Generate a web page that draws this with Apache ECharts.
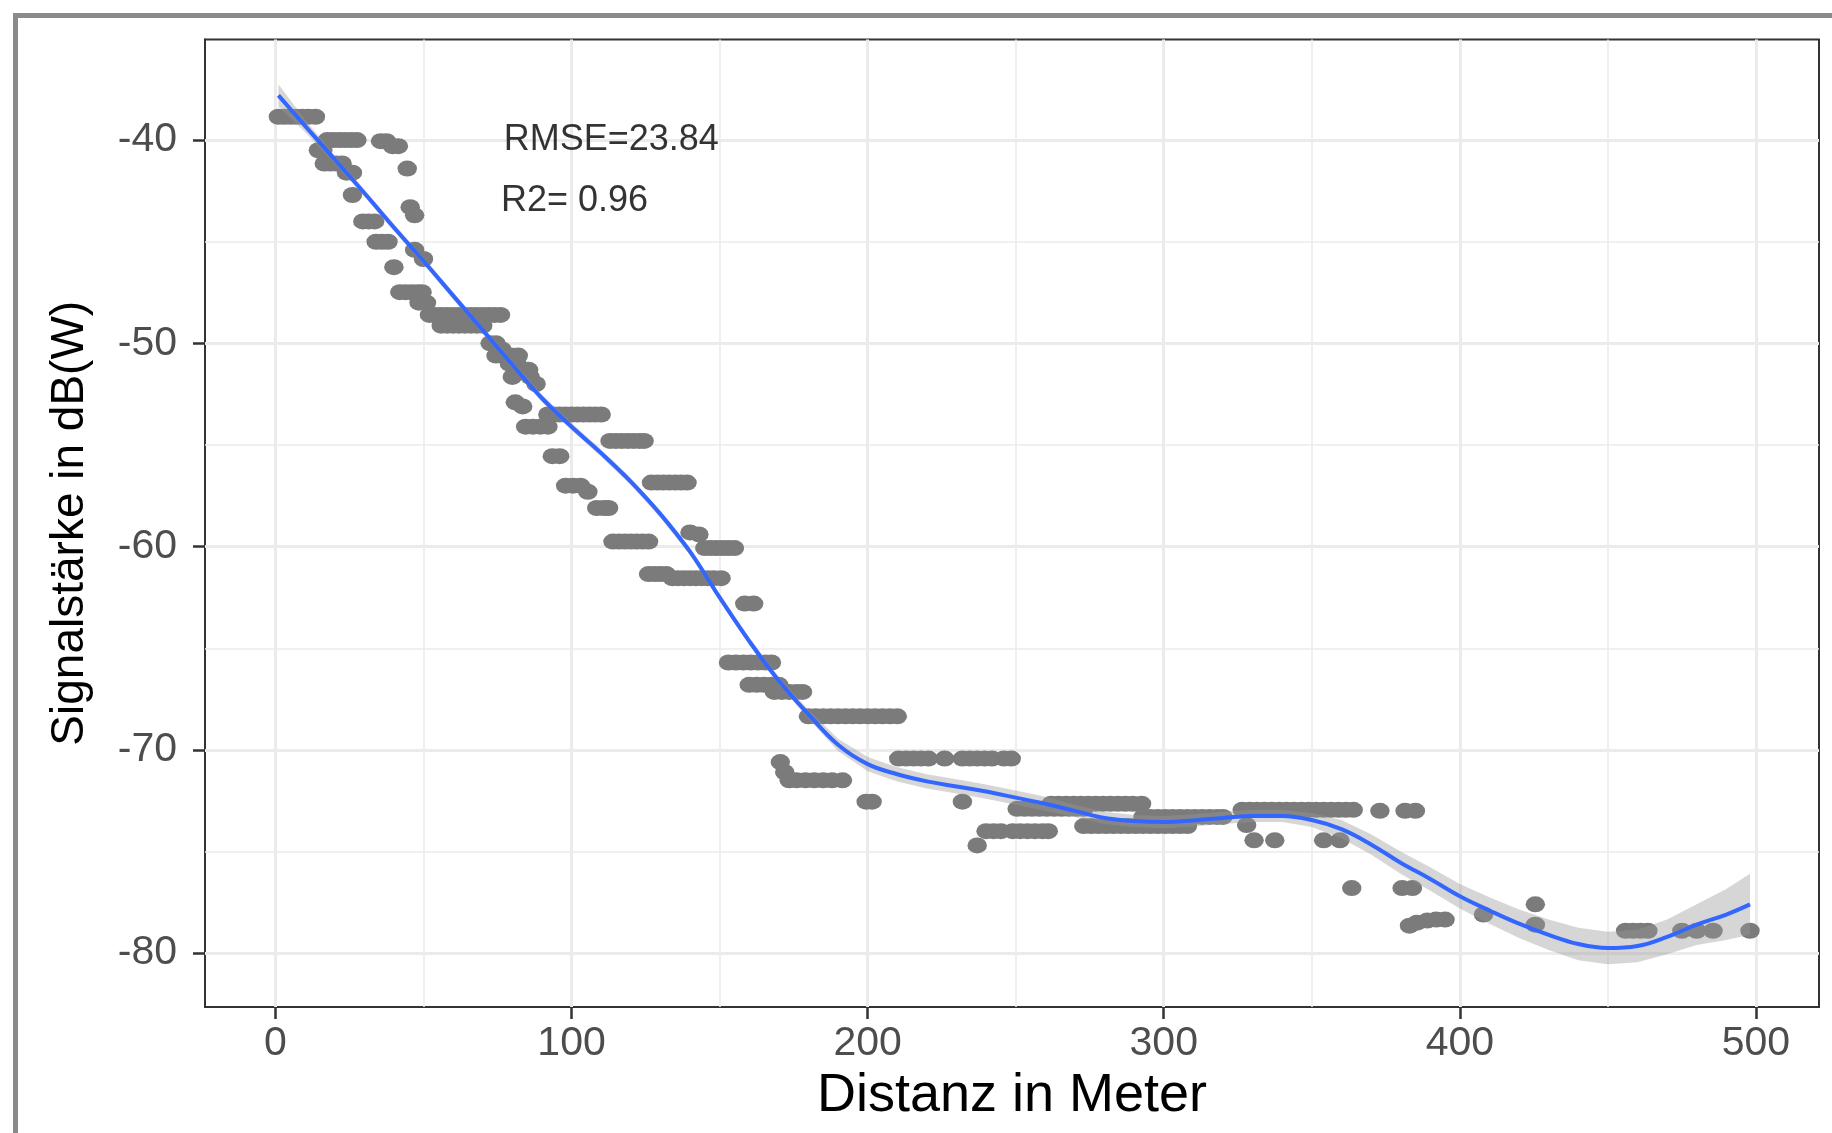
<!DOCTYPE html>
<html>
<head>
<meta charset="utf-8">
<script src="https://cdn.jsdelivr.net/npm/echarts@6/dist/echarts.min.js"></script>
<style>
html,body{margin:0;padding:0;background:#fff;}
#chart{width:1832px;height:1133px;}
</style>
</head>
<body>
<div id="chart"></div>
<script>
// ---- scatter observations: distance (m) and signal strength (dB(W)) ----
const distX = [
  1, 3, 5, 7, 9, 11, 13.5,
  14.5, 16,
  17.5, 19.5, 21.5, 23.5, 25.5, 27.5,
  16.5, 18.5, 20.5, 22.5,
  24, 26,
  26,
  35.5, 37.5,
  39.5, 41.5,
  44.5,
  45.5,
  47,
  29.5, 31.5, 33.5,
  34, 36, 38,
  47,
  50,
  40,
  42, 44, 46, 48, 49.5,
  48.5, 51,
  52, 54, 56, 58, 60, 62, 64, 66, 68, 70, 72, 74, 76,
  56, 58, 60, 62, 64, 66, 68, 70,
  72.5, 74.5,
  76.5,
  74.5, 77, 79.5, 82,
  79, 81.5,
  83, 85.5,
  80, 86,
  88,
  81,
  83.5,
  92, 94, 96, 98, 100, 102, 104, 106, 108, 110,
  84.5, 87, 89.5, 92,
  93.5, 96,
  113, 115, 117, 119, 121, 123, 124.5,
  98, 100.5, 103,
  105.5,
  108.5, 111, 112.5,
  127, 129, 131, 133, 135, 137, 139,
  114, 116, 118, 120, 122, 124, 126,
  126, 128, 130, 132,
  134, 136, 138, 140, 142, 144, 146, 148, 150.5,
  140,
  143,
  145, 147, 149, 151, 153, 155,
  158.5, 161.5,
  153, 155.5, 158, 160.5, 163, 165.5, 167.5,
  160, 162.5, 165, 167.5, 170,
  168.5, 171, 173.5, 176, 178,
  180, 182.5, 185, 187.5, 190, 192.5, 195, 197.5, 200, 202.5, 205, 207.5, 210,
  170.5,
  172,
  173.5, 176, 179, 182, 185, 188, 191.5,
  199.5, 201.5, 232,
  210.5, 213, 215.5, 218, 220.5, 226, 232, 234.5, 237, 239.5, 242, 246, 248.5,
  240, 242.5, 245, 249, 251.5, 254, 256.5, 259, 261,
  237,
  250.5, 253, 255.5, 258, 260.5, 263, 265.5, 268, 270.5, 273,
  262, 264.5, 267, 269.5, 272, 274.5, 277, 279.5, 282, 284.5, 287, 289.5, 292.5,
  273, 275.5, 278, 280.5, 283, 285.5, 288, 290.5, 293, 295.5, 298, 300.5, 303, 305.5, 308,
  293, 295.5, 298, 300.5, 303, 305.5, 308, 310.5, 313, 315.5, 318, 320,
  326.5, 329, 331.5, 334, 336.5, 339, 341.5, 344, 346.5, 349, 351.5, 354, 356.5, 359, 361.5, 364,
  373, 381.5, 385,
  328,
  330.5, 337.5, 354, 359.5,
  363.5, 380.5, 384,
  383,
  385.5,
  389,
  392, 395,
  408,
  425.5,
  425.5,
  456, 458.5, 461, 463.5, 475, 480, 485.5, 498
];
const signalY = [
  -38.85, -38.85, -38.85, -38.85, -38.85, -38.85, -38.85,
  -40.5, -40.5,
  -40.0, -40.0, -40.0, -40.0, -40.0, -40.0,
  -41.15, -41.15, -41.15, -41.15,
  -41.6, -41.6,
  -42.7,
  -40.05, -40.05,
  -40.3, -40.3,
  -41.4,
  -43.3,
  -43.7,
  -44.0, -44.0, -44.0,
  -45.0, -45.0, -45.0,
  -45.4,
  -45.85,
  -46.25,
  -47.48, -47.48, -47.48, -47.48, -47.48,
  -48.0, -48.0,
  -48.6, -48.6, -48.6, -48.6, -48.6, -48.6, -48.6, -48.6, -48.6, -48.6, -48.6, -48.6, -48.6,
  -49.13, -49.13, -49.13, -49.13, -49.13, -49.13, -49.13, -49.13,
  -50.0, -50.0,
  -50.3,
  -50.6, -50.6, -50.6, -50.6,
  -51.0, -51.0,
  -51.3, -51.3,
  -51.65, -51.65,
  -52.0,
  -52.9,
  -53.1,
  -53.5, -53.5, -53.5, -53.5, -53.5, -53.5, -53.5, -53.5, -53.5, -53.5,
  -54.1, -54.1, -54.1, -54.1,
  -55.55, -55.55,
  -54.8, -54.8, -54.8, -54.8, -54.8, -54.8, -54.8,
  -57.0, -57.0, -57.0,
  -57.3,
  -58.1, -58.1, -58.1,
  -56.85, -56.85, -56.85, -56.85, -56.85, -56.85, -56.85,
  -59.75, -59.75, -59.75, -59.75, -59.75, -59.75, -59.75,
  -61.35, -61.35, -61.35, -61.35,
  -61.55, -61.55, -61.55, -61.55, -61.55, -61.55, -61.55, -61.55, -61.55,
  -59.3,
  -59.4,
  -60.07, -60.07, -60.07, -60.07, -60.07, -60.07,
  -62.8, -62.8,
  -65.7, -65.7, -65.7, -65.7, -65.7, -65.7, -65.7,
  -66.8, -66.8, -66.8, -66.8, -66.8,
  -67.15, -67.15, -67.15, -67.15, -67.15,
  -68.35, -68.35, -68.35, -68.35, -68.35, -68.35, -68.35, -68.35, -68.35, -68.35, -68.35, -68.35, -68.35,
  -70.6,
  -71.1,
  -71.5, -71.5, -71.5, -71.5, -71.5, -71.5, -71.5,
  -72.55, -72.55, -72.55,
  -70.43, -70.43, -70.43, -70.43, -70.43, -70.43, -70.43, -70.43, -70.43, -70.43, -70.43, -70.43, -70.43,
  -74.0, -74.0, -74.0, -74.0, -74.0, -74.0, -74.0, -74.0, -74.0,
  -74.7,
  -72.9, -72.9, -72.9, -72.9, -72.9, -72.9, -72.9, -72.9, -72.9, -72.9,
  -72.65, -72.65, -72.65, -72.65, -72.65, -72.65, -72.65, -72.65, -72.65, -72.65, -72.65, -72.65, -72.65,
  -73.75, -73.75, -73.75, -73.75, -73.75, -73.75, -73.75, -73.75, -73.75, -73.75, -73.75, -73.75, -73.75, -73.75, -73.75,
  -73.3, -73.3, -73.3, -73.3, -73.3, -73.3, -73.3, -73.3, -73.3, -73.3, -73.3, -73.3,
  -72.95, -72.95, -72.95, -72.95, -72.95, -72.95, -72.95, -72.95, -72.95, -72.95, -72.95, -72.95, -72.95, -72.95, -72.95, -72.95,
  -73.0, -73.0, -73.0,
  -73.7,
  -74.45, -74.45, -74.45, -74.45,
  -76.8, -76.8, -76.8,
  -78.65,
  -78.5,
  -78.4,
  -78.35, -78.35,
  -78.1,
  -77.6,
  -78.6,
  -78.9, -78.9, -78.9, -78.9, -78.9, -78.9, -78.9, -78.9
];

// ---- loess fit and its confidence band (half width, dB) ----
const smoothX = [1, 10, 20, 30, 40, 50, 60, 70, 80, 90, 100, 110, 120, 130, 140, 150, 160, 170, 180, 190,
  200, 210, 220, 230, 240, 250, 260, 270, 280, 290, 300, 310, 320, 330, 340, 350, 360, 370, 380, 390,
  400, 410, 420, 430, 440, 450, 460, 470, 480, 490, 498];
const smoothY = [-37.8, -39.3, -40.95, -42.6, -44.3, -45.95, -47.65, -49.35, -51.05, -52.7, -54.1, -55.4, -56.8, -58.4, -60.25, -62.5, -64.65, -66.6, -68.25, -69.75,
  -70.7, -71.2, -71.55, -71.8, -72.05, -72.35, -72.65, -73.0, -73.35, -73.5, -73.55, -73.47, -73.35, -73.25, -73.25, -73.45, -73.9, -74.65, -75.55, -76.35,
  -77.2, -77.9, -78.55, -79.1, -79.55, -79.75, -79.65, -79.2, -78.6, -78.1, -77.6];
const ciHalf = [0.55, 0.3, 0.2, 0.18, 0.18, 0.18, 0.18, 0.18, 0.18, 0.18, 0.18, 0.18, 0.18, 0.18, 0.18, 0.18, 0.18, 0.18, 0.22, 0.3,
  0.35, 0.35, 0.35, 0.35, 0.35, 0.35, 0.35, 0.3, 0.3, 0.3, 0.3, 0.3, 0.3, 0.3, 0.3, 0.35, 0.45, 0.5, 0.55, 0.58,
  0.6, 0.65, 0.7, 0.75, 0.8, 0.8, 0.8, 0.85, 1.0, 1.25, 1.5];

// ---- axes ----
const xTicks = [0, 100, 200, 300, 400, 500];
const xMinor = [50, 150, 250, 350, 450];
const yTicks = [-80, -70, -60, -50, -40];
const yMinor = [-75, -65, -55, -45];

// ---- annotations ----
const annotText = ['RMSE=23.84', 'R2= 0.96'];
const annotX = [113.4, 101];
const annotY = [-40, -43];

const FONT = "'Liberation Sans', Arial, Helvetica, sans-serif";
const n = Math.min(distX.length, signalY.length);
const points = [];
for (let i = 0; i < n; i++) points.push([distX[i], signalY[i]]);
const lineData = smoothX.map((x, i) => [x, smoothY[i]]);
const bandData = smoothX.map((x, i) => [x, smoothY[i] - ciHalf[i], smoothY[i] + ciHalf[i]]);

const gridColor = '#ebebeb';
const gridLines = [].concat(
  xTicks.map(v => ({ xAxis: v, lineStyle: { width: 3, color: gridColor, type: 'solid' } })),
  xMinor.map(v => ({ xAxis: v, lineStyle: { width: 1.6, color: gridColor, type: 'solid' } })),
  yTicks.map(v => ({ yAxis: v, lineStyle: { width: 3, color: gridColor, type: 'solid' } })),
  yMinor.map(v => ({ yAxis: v, lineStyle: { width: 1.6, color: gridColor, type: 'solid' } }))
);

const chart = echarts.init(document.getElementById('chart'), null, { renderer: 'canvas' });
const option = {
  animation: false,
  backgroundColor: '#fff',
  graphic: [{
    type: 'rect',
    shape: { x: 15.5, y: 15.5, width: 1950, height: 1300 },
    style: { fill: 'none', stroke: '#8a8a8a', lineWidth: 5 },
    silent: true
  }],
  grid: {
    left: 205, top: 39.5, right: 13, bottom: 126,
    show: true, borderColor: '#333', borderWidth: 2, backgroundColor: '#fff',
    containLabel: false, outerBoundsMode: 'none'
  },
  xAxis: {
    type: 'value', min: -23.8, max: 521.3,
    splitLine: { show: false },
    axisLine: { show: true, onZero: false, lineStyle: { color: '#333', width: 2 } },
    axisTick: { show: true, customValues: xTicks, length: 12, lineStyle: { color: '#333', width: 2.5 } },
    axisLabel: { customValues: xTicks, fontSize: 41, color: '#4d4d4d', margin: 16, fontFamily: FONT },
    name: 'Distanz in Meter', nameLocation: 'middle', nameGap: 58,
    nameTextStyle: { fontSize: 54, color: '#000', fontFamily: FONT }
  },
  yAxis: {
    type: 'value', min: -82.65, max: -35.05,
    splitLine: { show: false },
    axisLine: { show: true, onZero: false, lineStyle: { color: '#333', width: 2 } },
    axisTick: { show: true, customValues: yTicks, length: 12, lineStyle: { color: '#333', width: 2.5 } },
    axisLabel: { customValues: yTicks, fontSize: 41, color: '#4d4d4d', margin: 28, fontFamily: FONT },
    name: 'Signalstärke in dB(W)', nameLocation: 'middle', nameRotate: 90, nameGap: 112,
    nameTextStyle: { fontSize: 46, color: '#000', fontFamily: FONT }
  },
  series: [
    {
      name: 'grid', type: 'line', data: [], silent: true, z: 1,
      markLine: { silent: true, symbol: ['none', 'none'], label: { show: false }, z: 1, animation: false, data: gridLines }
    },
    {
      name: 'obs', type: 'scatter', data: points, z: 2, silent: true,
      symbol: 'path://M0,10A10,10,0,1,1,20,10A10,10,0,1,1,0,10Z',
      symbolSize: [19.5, 16],
      itemStyle: { color: '#7b7b7b', opacity: 1 }
    },
    {
      name: 'ci', type: 'custom', z: 3, silent: true,
      data: bandData,
      encode: { x: 0, y: [1, 2] },
      renderItem: function (params, api) {
        if (params.dataIndex !== 0) return null;
        const up = [], lo = [];
        for (let i = 0; i < bandData.length; i++) {
          lo.push(api.coord([bandData[i][0], bandData[i][1]]));
          up.push(api.coord([bandData[i][0], bandData[i][2]]));
        }
        return {
          type: 'polygon',
          shape: { points: up.concat(lo.reverse()) },
          style: { fill: 'rgba(153,153,153,0.4)', stroke: null }
        };
      }
    },
    {
      name: 'fit', type: 'line', data: lineData, z: 4, silent: true,
      showSymbol: false, symbol: 'none', smooth: 0.4,
      lineStyle: { color: '#3366FF', width: 4 }
    },
    {
      name: 'annot', type: 'scatter', z: 5, silent: true,
      symbolSize: 1, itemStyle: { color: 'rgba(0,0,0,0)' },
      data: annotX.map((x, i) => ({ value: [x, annotY[i]], label: { formatter: annotText[i] } })),
      label: { show: true, position: 'inside', fontSize: 36, color: '#000', fontFamily: FONT }
    }
  ]
};
chart.setOption(option);
</script>
</body>
</html>
